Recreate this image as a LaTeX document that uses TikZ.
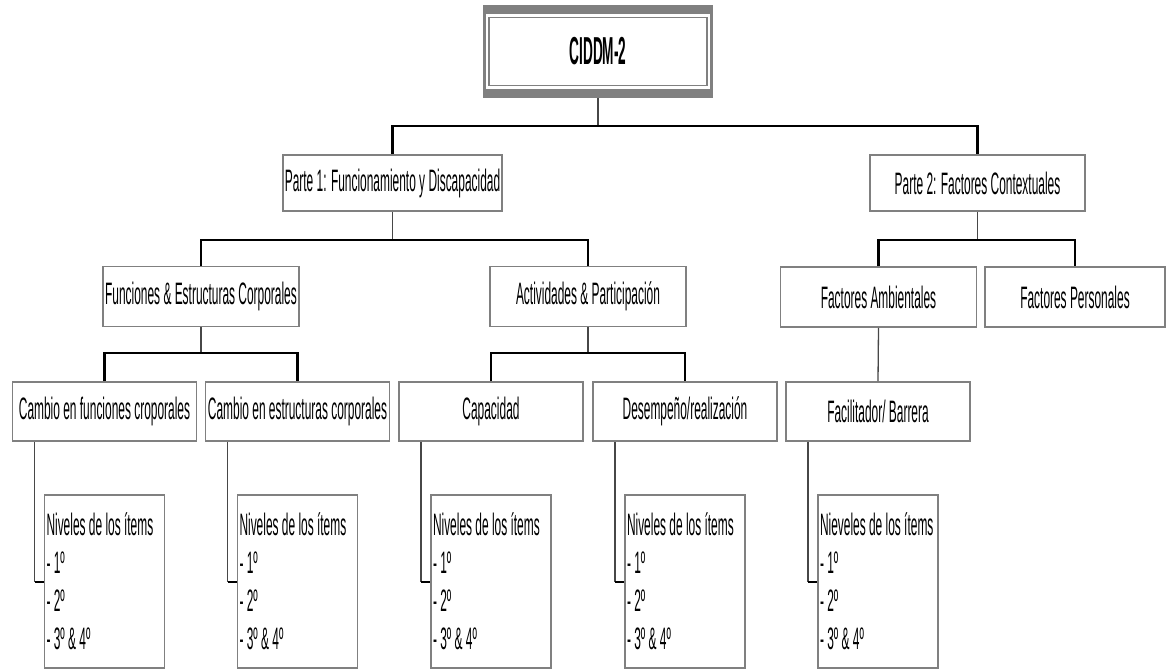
\documentclass[tikz,border=0pt]{standalone}
\usepackage{fontspec}
\setmainfont[FakeStretch=0.385]{Liberation Sans}
\newfontfamily\rootfont[FakeStretch=0.35]{Liberation Sans}
\usetikzlibrary{positioning}
\definecolor{frame}{HTML}{808080}
\definecolor{stemc}{HTML}{474747}

\tikzset{
  box/.style={draw=frame, line width=1.8pt, fill=white, inner sep=2pt,
    align=center, font=\fontsize{31}{38}\selectfont},
  lvone/.style={box, minimum width=215pt, minimum height=56pt},
  lvtwo/.style={box, minimum width=196pt, minimum height=60pt},
  lvthree/.style={box, minimum width=184pt, minimum height=59pt},
  items/.style={box, line width=1.2pt, align=flush left, text width=116pt,
    minimum height=173pt},
  rootbox/.style={fill=frame, minimum width=230pt, minimum height=93pt,
    font=\rootfont\bfseries\fontsize{39}{42}\selectfont,
    path picture={
      \fill[white] ([shift={(3pt,-9pt)}]path picture bounding box.north west)
        rectangle ([shift={(-3pt,9pt)}]path picture bounding box.south east);
      \draw[frame, line width=1.6pt]
        ([shift={(6pt,-12.5pt)}]path picture bounding box.north west)
        rectangle ([shift={(-6pt,12.5pt)}]path picture bounding box.south east);
    }},
  stem/.style={stemc, line width=1.3pt},
  bar/.style={black, line width=2.4pt}
}

\begin{document}
\begin{tikzpicture}[x=1pt,y=-1pt]
        \useasboundingbox (0,0) rectangle (1169,671);
        \path
        % top
        (598,51.5) node[rootbox](root) {CIDDM-2}

        % parts
        (392.5,183) node[lvone](p1) {Parte 1: Funcionamiento y Discapacidad}
        (977.5,183) node[lvone](p2) {Parte 2: Factores Contextuales}

        % components
        (201,296.5) node[lvtwo](fe) {Funciones \& Estructuras Corporales}
        (588,296.5) node[lvtwo](ap) {Actividades \& Participación}
        (878.5,297) node[lvtwo](fa) {Factores Ambientales}
        (1075,297) node[lvtwo,minimum width=180pt](fp) {Factores Personales}

        % constructs
        (104.5,411.5) node[lvthree](cf) {Cambio en funciones croporales}
        (297.5,411.5) node[lvthree](ce) {Cambio en estructuras corporales}
        (491,411.5) node[lvthree](ca) {Capacidad}
        (685,411.5) node[lvthree](de) {Desempeño/realización}
        (878,411.5) node[lvthree](fb) {Facilitador/ Barrera}

        % levels
        (104.5,581.5) node[items](ncf) {Niveles de los ítems\\- 1º\\- 2º\\- 3º \& 4º}
        (297.5,581.5) node[items](nce) {Niveles de los ítems\\- 1º\\- 2º\\- 3º \& 4º}
        (491,581.5) node[items](nca) {Niveles de los ítems\\- 1º\\- 2º\\- 3º \& 4º}
        (685,581.5) node[items](nde) {Niveles de los ítems\\- 1º\\- 2º\\- 3º \& 4º}
        (878,581.5) node[items](nfb) {Nieveles de los ítems\\- 1º\\- 2º\\- 3º \& 4º}
        ;

        \coordinate (j0) at (0,126);
        \coordinate (j1) at (0,240);
        \coordinate (j2) at (0,353);

        \draw[stem] (root.south) -- (root.south |- j0);
        \draw[bar] (p1.north) -- (p1.north |- j0) -- (p2.north |- j0) -- (p2.north);

        \draw[stem] (p1.south) -- (p1.south |- j1);
        \draw[bar] (fe.north) -- (fe.north |- j1) -- (ap.north |- j1) -- (ap.north);
        \draw[stem] (p2.south) -- (p2.south |- j1);
        \draw[bar] (fa.north) -- (fa.north |- j1) -- (fp.north |- j1) -- (fp.north);

        \draw[stem] (fe.south) -- (fe.south |- j2);
        \draw[bar] (cf.north) -- (cf.north |- j2) -- (ce.north |- j2) -- (ce.north);
        \draw[stem] (ap.south) -- (ap.south |- j2);
        \draw[bar] (ca.north) -- (ca.north |- j2) -- (de.north |- j2) -- (de.north);
        \draw[stem] (fa.south) -- (fb.north);

        \draw[stem] ([xshift=23pt]cf.south west) -- ([xshift=23pt]cf.south west |- ncf.west);
        \draw[bar,line width=2pt] ([xshift=23pt]cf.south west |- ncf.west) -- (ncf.west);
        \draw[stem] ([xshift=23pt]ce.south west) -- ([xshift=23pt]ce.south west |- nce.west);
        \draw[bar,line width=2pt] ([xshift=23pt]ce.south west |- nce.west) -- (nce.west);
        \draw[stem] ([xshift=23pt]ca.south west) -- ([xshift=23pt]ca.south west |- nca.west);
        \draw[bar,line width=2pt] ([xshift=23pt]ca.south west |- nca.west) -- (nca.west);
        \draw[stem] ([xshift=23pt]de.south west) -- ([xshift=23pt]de.south west |- nde.west);
        \draw[bar,line width=2pt] ([xshift=23pt]de.south west |- nde.west) -- (nde.west);
        \draw[stem] ([xshift=23pt]fb.south west) -- ([xshift=23pt]fb.south west |- nfb.west);
        \draw[bar,line width=2pt] ([xshift=23pt]fb.south west |- nfb.west) -- (nfb.west);
      \end{tikzpicture}
\end{document}
